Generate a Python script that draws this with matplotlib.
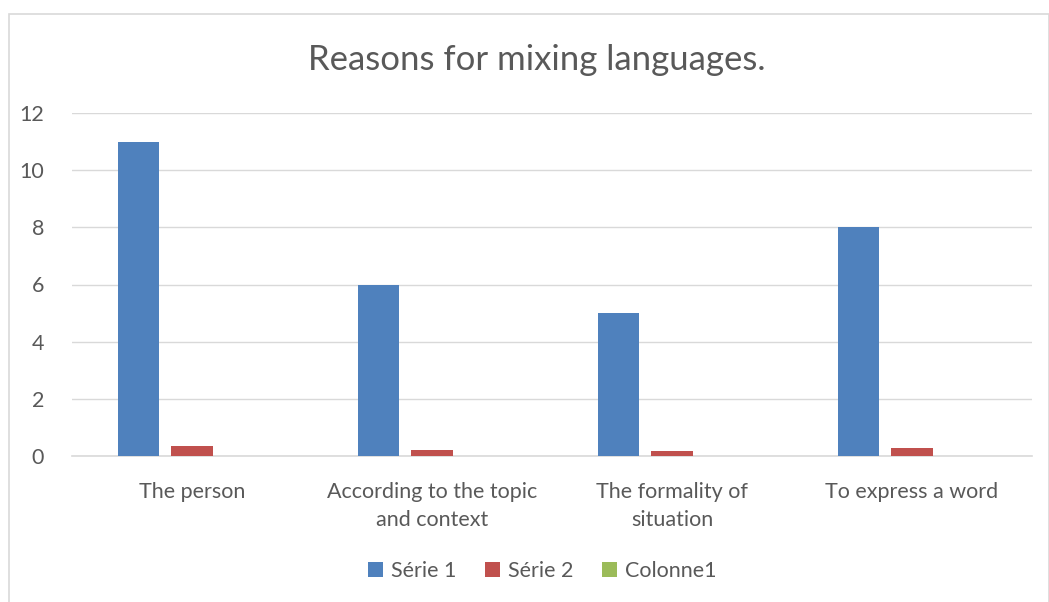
import numpy as np
import matplotlib.pyplot as plt
from matplotlib.patches import Rectangle

categories = ["The person", "According to the topic\nand context",
              "The formality of\nsituation", "To express a word"]
serie1 = [11, 6, 5, 8]
serie2 = [0.35, 0.2, 0.17, 0.28]
colonne1 = [0, 0, 0, 0]
labels = ["Série 1", "Série 2", "Colonne1"]
colors = ["#4f81bd", "#c0504d", "#9bbb59"]

plt.rcParams['font.family'] = ['Lato', 'DejaVu Sans']

fig = plt.figure(figsize=(10.49, 6.02), dpi=100)
# chart border
fig.patches.append(Rectangle((9/1049, -0.01), 1040/1049, 1 - 14/602 + 0.01,
                             transform=fig.transFigure, fill=False,
                             edgecolor="#d9d9d9", linewidth=1.2))

ax = fig.add_axes([72/1049, 1 - 456/602, 960/1049, 343/602])
x = np.arange(len(categories))
w = 0.171
step = 0.223
for i, (vals, lab) in enumerate(zip([serie1, serie2, colonne1], labels)):
    ax.bar(x + (i - 1) * step, vals, width=w, color=colors[i], label=lab, zorder=3)

ax.set_xlim(-0.5, len(categories) - 0.5)
ax.set_ylim(0, 12)
ax.set_yticks(range(0, 13, 2))
ax.yaxis.grid(True, color="#d9d9d9", linewidth=1)
ax.set_axisbelow(True)
for s in ["top", "right", "left"]:
    ax.spines[s].set_visible(False)
ax.spines["bottom"].set_color("#d9d9d9")
ax.spines["bottom"].set_linewidth(1.2)
ax.tick_params(axis="both", length=0, labelsize=15.5, colors="#595959")
ax.tick_params(axis="y", pad=20)
ax.tick_params(axis="x", pad=19)
ax.set_xticks(x)
ax.set_xticklabels(categories, linespacing=1.45)

fig.text(0.512, 1 - 60/602, "Reasons for mixing languages.", ha="center", va="center",
         fontsize=25, color="#595959")

leg = fig.legend(loc="center", bbox_to_anchor=(0.517, 1 - 571/602), ncol=3,
                 frameon=False, fontsize=15.5, handlelength=0.7, handleheight=0.7,
                 columnspacing=1.3, handletextpad=0.4)
for t in leg.get_texts():
    t.set_color("#595959")

fig.savefig("out.png", dpi=100)
